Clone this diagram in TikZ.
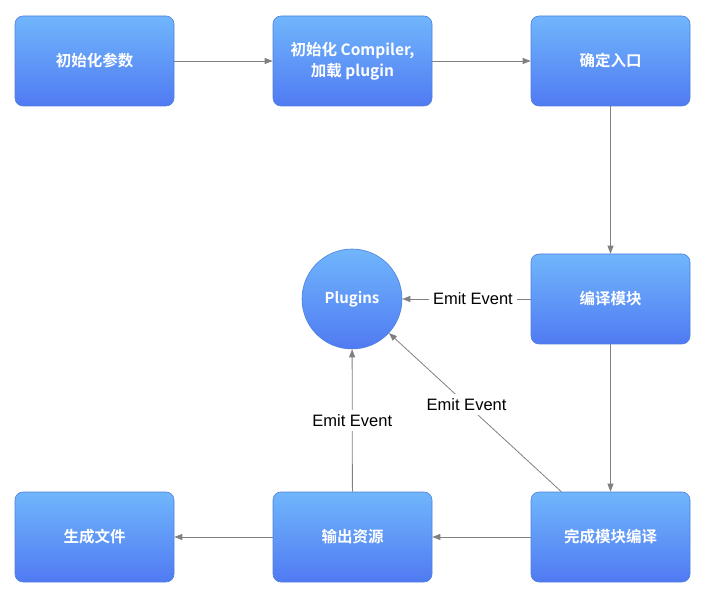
\documentclass[tikz,border=0pt]{standalone}
\usepackage{fontspec}
\setmainfont{Liberation Sans}
\newfontfamily\cjk{Noto Sans CJK SC}[BoldFont={Noto Sans CJK SC Bold}]
\usetikzlibrary{arrows.meta}
\definecolor{boxtop}{RGB}{112,182,252}
\definecolor{boxbot}{RGB}{80,122,242}
\definecolor{boxline}{RGB}{78,128,222}
\definecolor{lnk}{RGB}{128,128,128}
\begin{document}
\begin{tikzpicture}[x=1pt,y=-1pt,
  stepbox/.style={draw=boxline,line width=0.6pt,rounded corners=8pt,top color=boxtop,bottom color=boxbot,
    minimum width=159pt,minimum height=90pt,inner sep=0pt,text=white,font=\cjk\bfseries\fontsize{15.5}{21}\selectfont,align=center},
  plug/.style={circle,draw=boxline,line width=0.6pt,top color=boxtop,bottom color=boxbot,minimum size=100pt,inner sep=0pt,
    text=white,font=\cjk\bfseries\fontsize{15}{18}\selectfont},
  conn/.style={draw=lnk,line width=0.8pt,-{Triangle[length=8pt,width=6pt]}},
  lbl/.style={fill=white,text=black,inner sep=4pt,font=\fontsize{16.5}{19}\selectfont}]
\useasboundingbox (0,0) rectangle (707,601);
\node[stepbox] (a) at (94.5,61) {初始化参数};
\node[stepbox] (b) at (352.5,61) {初始化 Compiler,\\ 加载 plugin};
\node[stepbox] (c) at (610.5,61) {确定入口};
\node[stepbox] (d) at (610.5,299) {编译模块};
\node[stepbox] (e) at (610.5,537) {完成模块编译};
\node[stepbox] (f) at (352.5,537) {输出资源};
\node[stepbox] (g) at (94.5,537) {生成文件};
\node[plug] (p) at (352,299) {Plugins};
\draw[conn] (a) -- (b);
\draw[conn] (b) -- (c);
\draw[conn] (c) -- (d);
\draw[conn] (d) -- (e);
\draw[conn] (e) -- (f);
\draw[conn] (f) -- (g);
\draw[conn] (d) -- node[lbl,pos=0.45] (l1) {Emit Event} (p);
\draw[conn] (f) -- node[lbl,pos=0.5] (l2) {Emit Event} (p);
\draw[conn] (e) -- node[lbl,pos=0.55] (l3) {Emit Event} (p);
\end{tikzpicture}
\end{document}
